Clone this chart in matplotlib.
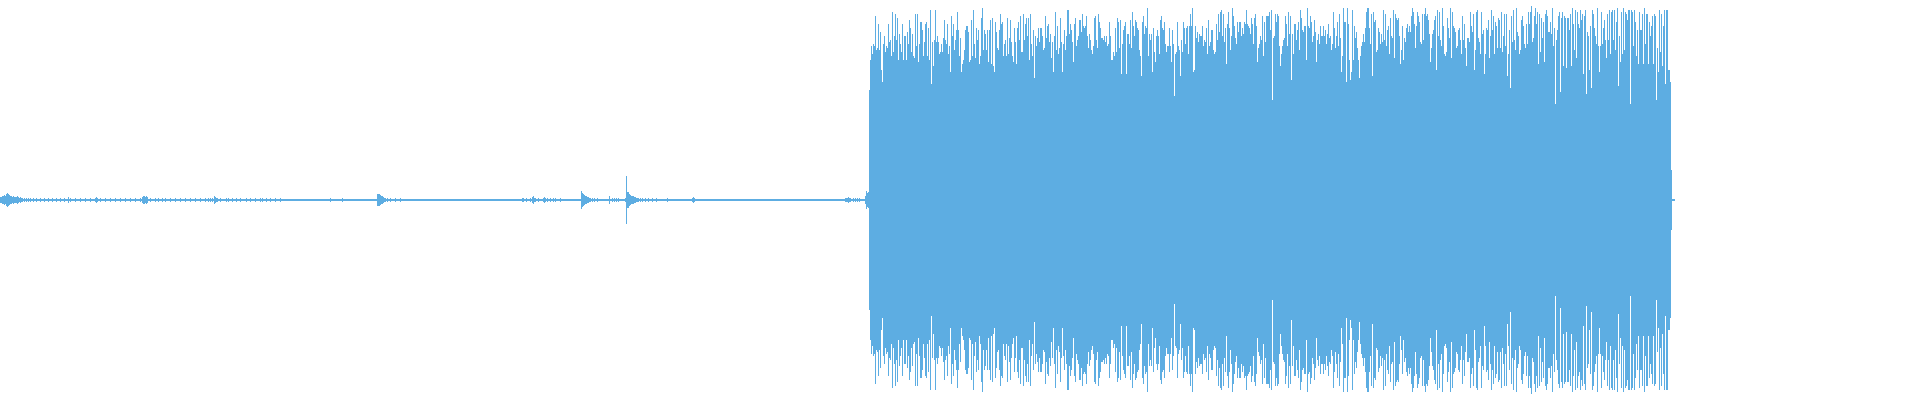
import numpy as np
import matplotlib
matplotlib.use('Agg')
import matplotlib.pyplot as plt

# waveform peaks, one value per frame, in % of full scale (symmetric around 0)
n_frames = 1920
color = '#5dade2'

# quiet part: background level plus the small bursts
base_level = 0.5
base_end = 1675
quiet_t = [0, 1, 2, 3, 4, 5, 6, 7, 8, 9, 10, 11, 12, 13, 14, 15, 16, 17, 18, 19, 20, 21, 22, 24, 26, 28, 30, 33, 36, 40,
           44, 48, 52, 56, 60, 64, 68, 70, 75, 80, 85, 90, 95, 96, 97, 100, 105, 110, 115, 120, 125, 130, 135, 140,
           142, 143, 144, 145, 146, 147, 150, 155, 158, 162, 165, 170, 175, 180, 185, 190, 195, 200, 205, 208, 210,
           212, 214, 215, 216, 217, 220, 226, 228, 232, 236, 240, 246, 250, 255, 260, 262, 266, 270, 275, 280, 330,
           342, 377, 378, 379, 380, 381, 382, 383, 384, 385, 387, 390, 395, 400,
           522, 523, 526, 530, 532, 533, 534, 535, 538, 543, 544, 545, 547, 550, 553, 555, 560,
           581, 582, 583, 584, 585, 586, 587, 588, 589, 590, 592, 594, 597,
           609, 612, 614, 616, 618,
           625, 626, 627, 628, 629, 630, 631, 632, 633, 634, 635, 636, 637, 638, 640, 642, 645, 648, 652, 656, 667,
           692, 693, 694,
           845, 846, 847, 848, 849, 850, 853, 855, 857, 859,
           865, 866, 867, 868]
quiet_amp = [1.5, 1.5, 2, 2, 2.5, 2, 3, 3.5, 3, 2.5, 2, 2, 1.5, 2, 1.5, 1.5, 1.5, 2, 1.5, 1.2, 1.5, 1.2, 1, 1, 1, 1.2, 1, 1, 1, 1,
             1.2, 1, 1, 1, 1, 1, 1.5, 1, 1, 1.2, 1, 1, 1.2, 1.5, 1, 1, 1, 1, 1, 1, 1, 1, 1, 1.2,
             1.5, 2, 1.8, 1.5, 2, 1.5, 1, 1.2, 1.2, 1.2, 1, 1, 0.8, 0.8, 0.8, 0.8, 0.8, 0.8, 0.8, 1.2, 1,
             1, 1.8, 1.5, 1.2, 1.2, 1, 1, 1, 0.8, 0.8, 0.8, 0.8, 0.8, 0.8, 1, 1, 1, 0.8, 0.8, 0.8, 0.8,
             1, 2.8, 3, 2.8, 2.5, 2, 1.8, 1.5, 1.2, 1, 1, 0.8, 0.8, 0.8,
             1.2, 1, 1, 1, 1.5, 1.8, 1.2, 1, 1, 1.2, 1.5, 1.2, 1, 1, 1, 1, 1,
             4.7, 3.5, 2.8, 2.5, 2, 1.8, 1.5, 1.5, 1.2, 1.2, 1, 0.8, 0.8,
             1.8, 1, 1, 1, 0.8,
             1, 11.8, 4.2, 4, 3.2, 2.5, 2, 2.2, 1.8, 1.5, 1.5, 1.2, 1, 1, 1, 0.8, 0.8, 0.8, 0.8, 0.8, 0.8,
             1, 1.5, 1,
             0.8, 0.8, 1, 1.5, 1.2, 1, 1, 0.8, 1, 1,
             2, 4.7, 3.5, 4]

# loud part, starting at frame 869
loud_start = 869
loud_amp = [
    55, 70, 77, 73, 78, 77, 92, 75, 76, 88, 75, 84, 65, 59, 78, 82, 74, 77, 76, 88, 79, 80, 72, 94, 74, 82, 93, 80, 91, 70,
    83, 78, 74, 88, 70, 82, 82, 70, 84, 78, 90, 86, 74, 83, 72, 71, 93, 77, 93, 69, 78, 89, 89, 85, 72, 79, 88, 89, 72, 86,
    70, 95, 58, 79, 67, 80, 95, 79, 82, 79, 73, 74, 78, 74, 81, 90, 80, 78, 88, 73, 77, 64, 92, 82, 88, 75, 80, 85, 94, 85,
    72, 81, 64, 68, 70, 75, 85, 87, 87, 84,
    69, 70, 90, 72, 95, 78, 71, 86, 80, 85, 68, 72, 91, 96, 75, 85, 83, 75, 85, 69, 85, 90, 68, 91, 67, 64, 89, 84, 76, 75,
    85, 93, 88, 89, 72, 78, 80, 72, 91, 73, 81, 90, 79, 72, 69, 86, 79, 68, 86, 89, 80, 92, 74, 74, 93, 80, 88, 91, 82, 91,
    70, 93, 78, 72, 85, 61, 82, 77, 81, 86, 79, 86, 86, 82, 75, 76, 92, 81, 87, 88, 79, 83, 71, 79, 64, 82, 94, 75, 87, 73,
    76, 91, 79, 64, 78, 85, 75, 82, 95, 95,
    83, 88, 85, 79, 69, 88, 91, 77, 80, 82, 90, 90, 84, 93, 87, 86, 87, 92, 82, 76, 83, 80, 75, 73, 77, 91, 92, 80, 76, 93,
    89, 86, 81, 81, 80, 82, 79, 82, 77, 78, 89, 82, 70, 70, 74, 72, 86, 74, 91, 89, 76, 90, 63, 78, 85, 87, 89, 63, 83, 83,
    78, 90, 76, 94, 87, 82, 90, 89, 86, 85, 75, 72, 62, 89, 92, 83, 87, 86, 96, 72, 83, 80, 83, 64, 86, 74, 69, 82, 85, 82,
    73, 90, 92, 86, 85, 89, 78, 74, 77, 77,
    86, 77, 69, 85, 78, 52, 73, 74, 89, 77, 75, 62, 80, 74, 89, 86, 78, 86, 87, 73, 87, 93, 87, 96, 64, 65, 87, 81, 84, 79,
    83, 82, 82, 87, 77, 80, 79, 86, 73, 90, 77, 79, 85, 85, 75, 73, 74, 88, 80, 93, 84, 94, 95, 82, 93, 79, 86, 68, 88, 94,
    86, 75, 82, 96, 92, 87, 81, 78, 89, 84, 89, 89, 82, 86, 83, 89, 88, 95, 88, 87, 86, 83, 91, 88, 78, 91, 93, 87, 69, 76,
    78, 82, 80, 92, 72, 89, 79, 92, 92, 92,
    94, 85, 95, 50, 81, 82, 93, 89, 93, 92, 77, 67, 73, 77, 80, 81, 92, 88, 77, 94, 83, 92, 60, 83, 73, 88, 88, 80, 85, 89,
    75, 95, 91, 85, 84, 87, 87, 70, 96, 87, 86, 92, 89, 79, 82, 90, 84, 69, 80, 83, 78, 87, 82, 82, 87, 82, 85, 78, 83, 88,
    81, 82, 75, 78, 94, 86, 76, 82, 89, 77, 93, 81, 64, 72, 96, 89, 89, 59, 96, 88, 70, 60, 64, 95, 70, 87, 81, 84, 76, 70,
    61, 72, 77, 79, 83, 79, 86, 94, 96, 96,
    86, 78, 93, 62, 94, 89, 90, 74, 75, 86, 84, 78, 83, 79, 95, 80, 93, 77, 85, 87, 73, 91, 82, 81, 95, 71, 93, 91, 90, 91,
    82, 68, 75, 87, 70, 81, 79, 86, 88, 84, 87, 84, 92, 96, 94, 88, 76, 87, 94, 92, 89, 79, 78, 93, 80, 93, 96, 92, 93, 90,
    83, 69, 76, 83, 85, 90, 92, 65, 95, 82, 94, 80, 77, 96, 87, 73, 72, 74, 91, 86, 81, 96, 71, 94, 87, 86, 84, 76, 77, 85,
    86, 80, 73, 92, 80, 88, 76, 67, 81, 81,
    79, 94, 87, 84, 93, 65, 75, 94, 95, 81, 79, 73, 94, 83, 85, 63, 73, 86, 85, 90, 71, 82, 95, 85, 92, 73, 89, 87, 76, 91,
    90, 76, 94, 74, 82, 93, 77, 93, 62, 73, 85, 56, 92, 79, 95, 80, 75, 96, 84, 82, 73, 75, 90, 92, 87, 78, 76, 88, 78, 94,
    88, 94, 97, 79, 81, 92, 96, 88, 94, 68, 93, 74, 91, 81, 89, 69, 93, 95, 92, 84, 84, 89, 83, 96, 77, 86, 48, 80, 85, 92,
    94, 54, 91, 94, 67, 92, 91, 66, 91, 91,
    85, 93, 67, 96, 88, 75, 95, 71, 94, 88, 86, 95, 90, 93, 63, 92, 95, 53, 84, 82, 65, 87, 56, 95, 93, 86, 82, 78, 96, 77,
    64, 77, 94, 78, 86, 90, 80, 71, 93, 80, 95, 73, 94, 95, 80, 95, 75, 89, 96, 57, 82, 69, 94, 73, 96, 75, 94, 93, 90, 95,
    95, 48, 95, 94, 77, 95, 89, 72, 85, 68, 94, 85, 85, 93, 68, 96, 78, 93, 93, 68, 89, 82, 87, 92, 68, 93, 92, 50, 76, 64,
    95, 74, 93, 67, 87, 95, 58, 95, 95, 65, 65, 59, 15]

fig = plt.figure(figsize=(19.2, 4), dpi=100, facecolor='white')
ax = fig.add_axes([0, 0, 1, 1])

# background level line
ax.fill_between([0, base_end], -base_level, base_level, color=color, linewidth=0)

qt = np.array(quiet_t)
qa = np.array(quiet_amp)
ax.bar(qt, 2 * qa, bottom=-qa, width=1.0, align='edge', color=color, linewidth=0)

la = np.array(loud_amp, dtype=float)
lt = loud_start + np.arange(len(la))
ax.bar(lt, 2 * la, bottom=-la, width=1.0, align='edge', color=color, linewidth=0)

ax.set_xlim(0, n_frames)
ax.set_ylim(-100, 100)
ax.axis('off')

fig.savefig('out.png', dpi=100, facecolor='white')
